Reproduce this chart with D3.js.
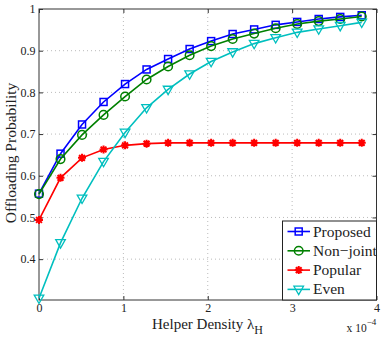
<!DOCTYPE html>
<html><head><meta charset="utf-8">
<script src="https://cdn.jsdelivr.net/npm/d3@7"></script>
<style>body{margin:0;background:#fff}svg{display:block}text{font-family:"Liberation Serif","Times New Roman","DejaVu Serif",serif;fill:#222}</style>
</head><body><svg id="c" width="387" height="338"></svg>
<script>
const xVals = [0,0.255,0.51,0.765,1.02,1.275,1.53,1.785,2.04,2.295,2.55,2.805,3.06,3.315,3.57,3.825];
const proposed = [0.557,0.653,0.723,0.777,0.820,0.855,0.880,0.904,0.923,0.940,0.951,0.962,0.969,0.976,0.981,0.985];
const nonJoint = [0.556,0.640,0.698,0.746,0.790,0.831,0.862,0.889,0.911,0.928,0.941,0.954,0.964,0.971,0.976,0.982];
const popular  = [0.494,0.595,0.643,0.663,0.673,0.677,0.679,0.679,0.679,0.679,0.679,0.679,0.679,0.679,0.679,0.679];
const even     = [0.306,0.439,0.546,0.634,0.704,0.763,0.807,0.844,0.874,0.897,0.917,0.931,0.944,0.952,0.960,0.968];
const seriesNames = ["Proposed","Non\u2212joint","Popular","Even"];
const seriesColors = ["#0000ff","#008000","#ff0000","#00bfbf"];
const seriesMarkers = ["square","circle","star","tri"];
const xTicks = [0,1,2,3,4];
const yTicks = [0.4,0.5,0.6,0.7,0.8,0.9,1];

const FONT = '"Liberation Serif","Times New Roman","DejaVu Serif",serif';
const svg = d3.select("#c");
const L=39, R=376.5, T=9, B=300;
const x = d3.scaleLinear().domain([0,4]).range([L,R]);
const y = d3.scaleLinear().domain([0.302,1]).range([B,T]);

// grid
const g = svg.append("g");
g.selectAll(".gx").data(xTicks.filter(d=>d>0&&d<4)).enter().append("line")
 .attr("x1",d=>x(d)).attr("x2",d=>x(d)).attr("y1",T).attr("y2",B)
 .attr("stroke","#bbb").attr("stroke-width",1).attr("stroke-dasharray","1,3");
g.selectAll(".gy").data(yTicks.filter(d=>d<1)).enter().append("line")
 .attr("y1",d=>y(d)).attr("y2",d=>y(d)).attr("x1",L).attr("x2",R)
 .attr("stroke","#bbb").attr("stroke-width",1).attr("stroke-dasharray","1,3");

// axes
const ax = d3.axisBottom(x).tickValues(xTicks).tickSize(-4).tickPadding(3).tickFormat(d3.format("d"));
const axT = d3.axisTop(x).tickValues(xTicks).tickSize(-4).tickFormat("");
const ay = d3.axisLeft(y).tickValues(yTicks).tickSize(-4).tickPadding(3.5).tickFormat(d=>d===1?"1":d3.format(".1f")(d));
const ayR = d3.axisRight(y).tickValues(yTicks).tickSize(-4).tickFormat("");
function style(sel){sel.attr("font-family",FONT);sel.select(".domain").remove();sel.selectAll("line").attr("stroke","#333");sel.selectAll("text").style("font-size","12px").attr("fill","#222").style("font-family",FONT);}
svg.append("g").attr("transform",`translate(0,${B})`).call(ax).call(style);
svg.append("g").attr("transform",`translate(0,${T})`).call(axT).call(style);
svg.append("g").attr("transform",`translate(${L},0)`).call(ay).call(style);
svg.append("g").attr("transform",`translate(${R},0)`).call(ayR).call(style);
svg.append("rect").attr("x",L).attr("y",T).attr("width",R-L).attr("height",B-T).attr("fill","none").attr("stroke","#333").attr("stroke-width",1);

function drawMarker(sel,type,color){
  if(type==="square") sel.append("rect").attr("x",-3.5).attr("y",-3.5).attr("width",7).attr("height",7).attr("fill","none").attr("stroke",color).attr("stroke-width",1.5);
  else if(type==="circle") sel.append("circle").attr("r",4.3).attr("fill","none").attr("stroke",color).attr("stroke-width",1.5);
  else if(type==="tri") sel.append("path").attr("d","M-4.8,-3.2L4.8,-3.2L0,5.2Z").attr("fill","none").attr("stroke",color).attr("stroke-width",1.3);
  else { sel.append("path").attr("d","M-4,0L4,0M0,-4L0,4M-2.9,-2.9L2.9,2.9M-2.9,2.9L2.9,-2.9").attr("stroke",color).attr("stroke-width",2); }
}
const allData=[proposed,nonJoint,popular,even];
const line = d3.line().x((d,i)=>x(xVals[i])).y(d=>y(d));
allData.forEach((vals,k)=>{
  const c=seriesColors[k];
  svg.append("path").datum(vals).attr("d",line).attr("fill","none").attr("stroke",c).attr("stroke-width",1.6);
  svg.append("g").selectAll("g").data(vals).enter().append("g")
   .attr("transform",(d,i)=>`translate(${x(xVals[i])},${y(d)})`)
   .each(function(){drawMarker(d3.select(this),seriesMarkers[k],c);});
});

// legend
const lg = svg.append("g");
lg.append("rect").attr("x",282.5).attr("y",221).attr("width",R-282.5).attr("height",B-221).attr("fill","#fff").attr("stroke","#222").attr("stroke-width",1);
seriesNames.forEach((n,k)=>{
  const yy=231.5+k*19.3;
  lg.append("line").attr("x1",287.5).attr("x2",310).attr("y1",yy).attr("y2",yy).attr("stroke",seriesColors[k]).attr("stroke-width",1.6);
  drawMarker(lg.append("g").attr("transform",`translate(298.7,${yy})`),seriesMarkers[k],seriesColors[k]);
  lg.append("text").attr("x",313).attr("y",yy+5).style("font-size","15.5px").style("font-family",FONT).text(n);
});

// labels
svg.append("text").attr("transform","translate(16,153) rotate(-90)").attr("text-anchor","middle").style("font-size","15.5px").style("font-family",FONT).text("Offloading Probability");
const xl = svg.append("text").attr("x",152).attr("y",328.5).style("font-size","15px").style("font-family",FONT);
xl.append("tspan").text("Helper Density \u03bb");
xl.append("tspan").attr("dy",5).style("font-size","12px").text("H");
const ex = svg.append("text").attr("x",346.5).attr("y",331.5).style("font-size","11.5px").style("font-family",FONT);
ex.append("tspan").text("x 10");
ex.append("tspan").attr("dy",-7).style("font-size","9px").text("\u22124");
</script></body></html>
